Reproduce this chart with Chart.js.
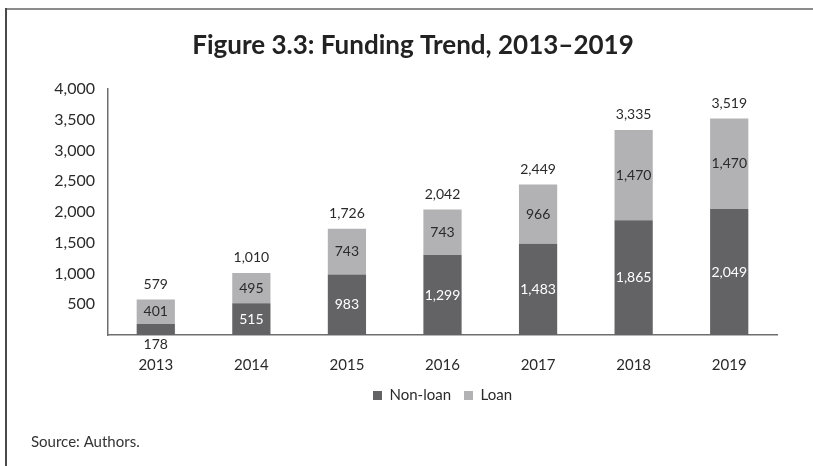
<!DOCTYPE html>
<html>
<head>
<meta charset="utf-8">
<script src="https://cdn.jsdelivr.net/npm/chart.js@4.4.1/dist/chart.umd.min.js"></script>
<style>
  html, body { margin: 0; padding: 0; background: #ffffff; }
  #wrap { width: 813px; height: 466px; position: relative; }
</style>
</head>
<body>
<div id="wrap"><canvas id="chart" width="813" height="466"></canvas></div>
<script>
// Funding by year, split into non-loan and loan amounts
const years = ['2013', '2014', '2015', '2016', '2017', '2018', '2019'];
const nonLoan = [178, 515, 983, 1299, 1483, 1865, 2049];
const loan = [401, 495, 743, 743, 966, 1470, 1470];
const yTicks = [500, 1000, 1500, 2000, 2500, 3000, 3500, 4000];
const titleText = 'Figure 3.3: Funding Trend, 2013\u20132019';
const sourceText = 'Source: Authors.';

const DARK = '#636365';
const LIGHT = '#b2b2b4';
const INK = '#2a2a2a';
const FONT = 'Lato, "Open Sans", sans-serif';

const fmt = v => v.toLocaleString('en-US');
const totals = years.map((_, i) => nonLoan[i] + loan[i]);

// Frame, heading and source note around the plot
const framePlugin = {
  id: 'frameAndNotes',
  beforeDraw(chart) {
    const ctx = chart.ctx;
    ctx.save();
    ctx.fillStyle = '#ffffff';
    ctx.fillRect(0, 0, chart.width, chart.height);
    ctx.lineWidth = 2;
    ctx.strokeStyle = '#8c8c8c';
    ctx.beginPath(); ctx.moveTo(6, 9); ctx.lineTo(chart.width, 9); ctx.stroke();
    ctx.strokeStyle = '#4a4a4a';
    ctx.beginPath(); ctx.moveTo(6, 8); ctx.lineTo(6, chart.height); ctx.stroke();
    ctx.restore();
  },
  afterDraw(chart) {
    const ctx = chart.ctx;
    ctx.save();
    ctx.fillStyle = '#222222';
    ctx.font = 'bold 26px ' + FONT;
    ctx.textAlign = 'center';
    ctx.textBaseline = 'middle';
    ctx.fillText(titleText, 413, 46);
    ctx.fillStyle = '#333333';
    ctx.font = '15px ' + FONT;
    ctx.textAlign = 'left';
    ctx.fillText(sourceText, 31, 442);
    ctx.restore();
  }
};

// Segment values inside the bars and totals above the stacks
const valueLabels = {
  id: 'valueLabels',
  afterDatasetsDraw(chart) {
    const ctx = chart.ctx;
    ctx.save();
    ctx.font = '14px ' + FONT;
    ctx.textAlign = 'center';
    ctx.textBaseline = 'middle';
    chart.data.datasets.forEach((ds, di) => {
      const meta = chart.getDatasetMeta(di);
      meta.data.forEach((bar, i) => {
        const v = ds.data[i];
        const top = Math.min(bar.y, bar.base);
        const bottom = Math.max(bar.y, bar.base);
        if (bottom - top < 16) {
          ctx.fillStyle = INK;
          ctx.fillText(fmt(v), bar.x, bottom + 9);
        } else {
          ctx.fillStyle = di === 0 ? '#ffffff' : INK;
          ctx.fillText(fmt(v), bar.x, (top + bottom) / 2);
        }
      });
    });
    const lastMeta = chart.getDatasetMeta(chart.data.datasets.length - 1);
    ctx.fillStyle = INK;
    lastMeta.data.forEach((bar, i) => {
      ctx.fillText(fmt(totals[i]), bar.x, bar.y - 15);
    });
    ctx.restore();
  }
};

new Chart(document.getElementById('chart'), {
  type: 'bar',
  data: {
    labels: years,
    datasets: [
      { label: 'Non-loan', data: nonLoan, backgroundColor: DARK, borderWidth: 0 },
      { label: 'Loan', data: loan, backgroundColor: LIGHT, borderWidth: 0 }
    ]
  },
  options: {
    responsive: false,
    animation: false,
    devicePixelRatio: 1,
    layout: { padding: { top: 89, left: 31, right: 36, bottom: 53 } },
    datasets: { bar: { barPercentage: 0.4, categoryPercentage: 1.0 } },
    scales: {
      x: {
        stacked: true,
        afterFit(scale) { scale.height = 40; },
        grid: { display: false, drawTicks: false },
        border: { display: true, color: '#6e6e6e', width: 1.5 },
        ticks: { color: INK, font: { family: FONT, size: 15 }, padding: 21 }
      },
      y: {
        stacked: true,
        min: 0,
        max: 4000,
        afterBuildTicks(scale) { scale.ticks = yTicks.map(v => ({ value: v })); },
        afterFit(scale) { scale.width = 77; },
        grid: { display: false, drawTicks: false },
        border: { display: true, color: '#6e6e6e', width: 1.5 },
        ticks: { color: INK, font: { family: FONT, size: 16 }, padding: 13, callback: v => fmt(v) }
      }
    },
    plugins: {
      legend: {
        position: 'bottom',
        fullSize: false,
        labels: { boxWidth: 9, boxHeight: 9, padding: 13, color: INK, font: { family: FONT, size: 15 } }
      },
      title: { display: false },
      tooltip: { enabled: false }
    }
  },
  plugins: [framePlugin, valueLabels]
});
</script>
</body>
</html>
